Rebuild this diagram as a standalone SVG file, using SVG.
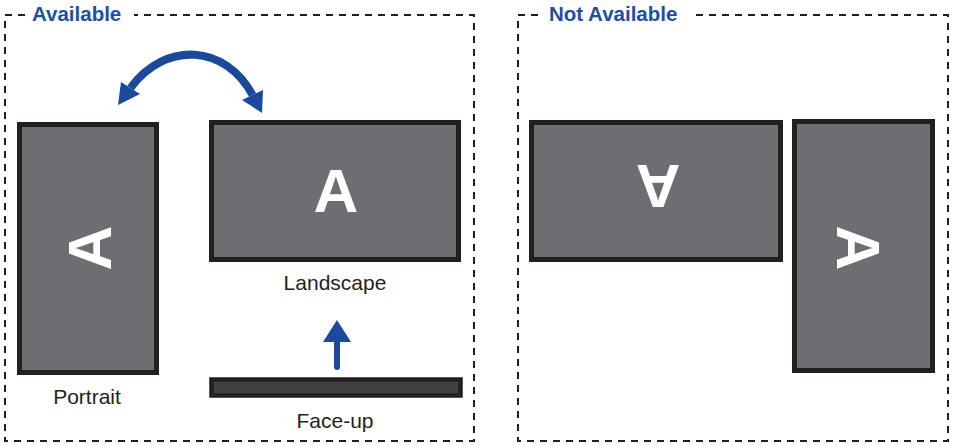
<svg xmlns="http://www.w3.org/2000/svg" width="955" height="446" viewBox="0 0 955 446">
<style>
.frame{fill:none;stroke:#231f20;stroke-width:2;stroke-dasharray:7 6}
.title{font-family:"Liberation Sans",Arial,sans-serif;font-weight:bold;font-size:20.5px;fill:#1d4f9f}
.label{font-family:"Liberation Sans",Arial,sans-serif;font-size:21px;fill:#231f20;text-anchor:middle}
.screen{fill:#6d6e71;stroke:#231f20;stroke-width:5}
.flat{fill:#414042;stroke:#231f20;stroke-width:4.5}
.glyph{font-family:"Liberation Sans",Arial,sans-serif;font-weight:bold;font-size:62px;fill:#ffffff;text-anchor:middle}
.arc{fill:none;stroke:#1b4a9b;stroke-width:8}
.shaft{stroke:#1b4a9b;stroke-width:6;stroke-linecap:round}
.head{fill:#1b4a9b}
</style>
<g id="available-frame">
<path class="frame" d="M25,15 H5 V441 H474 V15 H134"/>
<text class="title" x="32" y="21">Available</text>
</g>
<g id="not-available-frame">
<path class="frame" d="M538,15 H518 V441 H948 V15 H694"/>
<text class="title" x="549" y="21">Not Available</text>
</g>
<g id="portrait">
<rect class="screen" x="19.5" y="124.5" width="137" height="248"/>
<text class="glyph" transform="translate(88.5,248) rotate(-90)" x="0" y="22">A</text>
<text class="label" x="87" y="404">Portrait</text>
</g>
<g id="landscape">
<rect class="screen" x="211.5" y="122.5" width="247" height="137"/>
<text class="glyph" x="336" y="212">A</text>
<text class="label" x="335" y="290">Landscape</text>
</g>
<g id="face-up">
<rect class="flat" x="211.5" y="379.5" width="249" height="16"/>
<text class="label" x="335" y="428">Face-up</text>
</g>
<g id="landscape-flipped">
<rect class="screen" x="531.5" y="122.5" width="249" height="137"/>
<text class="glyph" transform="translate(658,187) rotate(180)" x="0" y="22">A</text>
</g>
<g id="portrait-flipped">
<rect class="screen" x="794.5" y="121.5" width="138" height="249"/>
<text class="glyph" transform="translate(859,248) rotate(90)" x="0" y="22">A</text>
</g>
<g id="connectors">
<path class="arc" d="M130.5,88 C165.5,40.4 225.9,44.6 252.5,95"/>
<polygon class="head" points="118,105 121,82 140,94"/>
<polygon class="head" points="262,113 263,90 242,100"/>
<line class="shaft" x1="337" y1="367" x2="337" y2="340"/>
<polygon class="head" points="337,320 323,342 351,342"/>
</g>
</svg>
